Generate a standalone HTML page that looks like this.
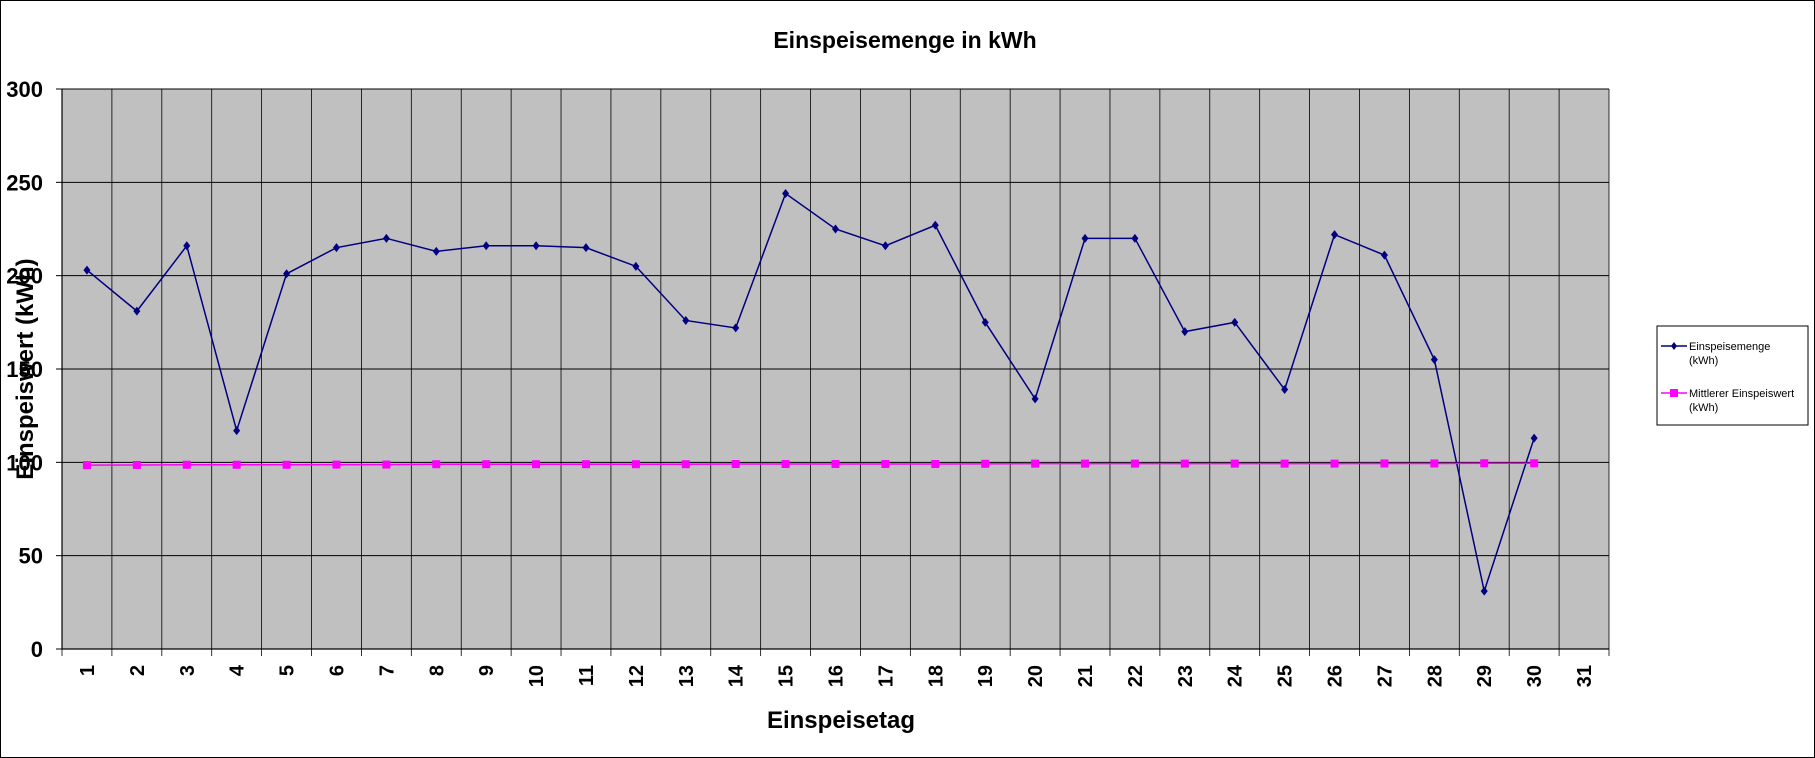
<!DOCTYPE html>
<html><head><meta charset="utf-8"><style>
body{margin:0;background:#fff;}
svg{display:block;font-family:"Liberation Sans",Arial,sans-serif;}
</style></head><body>
<svg id="chart" width="1815" height="758" viewBox="0 0 1815 758">
<rect x="0.5" y="0.5" width="1814" height="757" fill="#fff" stroke="#000" stroke-width="1"/>
<text x="905" y="48" font-size="23" font-weight="bold" text-anchor="middle">Einspeisemenge in kWh</text>
<rect x="62" y="89" width="1547" height="560" fill="#c0c0c0"/>
<g id="grid"></g>
<g id="axes"></g>
<g id="series"></g>
<text transform="translate(33,369) rotate(-90)" font-size="24" font-weight="bold" text-anchor="middle">Einspeiswert  (kWh)</text>
<text x="841" y="728" font-size="24" font-weight="bold" text-anchor="middle">Einspeisetag</text>
<g>
<rect x="1657" y="326" width="151" height="99" fill="#fff" stroke="#000" stroke-width="1"/>
<line x1="1661" y1="346" x2="1687" y2="346" stroke="#000080" stroke-width="1.5"/>
<path d="M1674 342 L1677 346 L1674 350 L1671 346Z" fill="#000080"/>
<text x="1689" y="350" font-size="11">Einspeisemenge</text>
<text x="1689" y="364" font-size="11">(kWh)</text>
<line x1="1661" y1="393" x2="1687" y2="393" stroke="#ff00ff" stroke-width="1.5"/>
<rect x="1670" y="389" width="8" height="8" fill="#ff00ff"/>
<text x="1689" y="397" font-size="11">Mittlerer Einspeiswert</text>
<text x="1689" y="411" font-size="11">(kWh)</text>
</g>
</svg>
<script>
const categories=[1,2,3,4,5,6,7,8,9,10,11,12,13,14,15,16,17,18,19,20,21,22,23,24,25,26,27,28,29,30,31];
const einspeisemenge=[203,181,216,117,201,215,220,213,216,216,215,205,176,172,244,225,216,227,175,134,220,220,170,175,139,222,211,155,31,113];
const mittlerer=[98.5,98.6,98.7,98.7,98.7,98.8,98.8,99,99,99,99,99,99,99.1,99.1,99.1,99.1,99.1,99.2,99.3,99.3,99.3,99.3,99.3,99.3,99.3,99.4,99.4,99.5,99.5];
const yTicks=[0,50,100,150,200,250,300];
const NS='http://www.w3.org/2000/svg';
const L=62,R=1609,T=89,B=649,yMax=300;
const bw=(R-L)/categories.length;
function xs(i){return L+bw*(i+0.5);}
function ys(v){return B-(v/yMax)*(B-T);}
function mk(tag,attrs,parent){const e=document.createElementNS(NS,tag);for(const k in attrs)e.setAttribute(k,attrs[k]);parent.appendChild(e);return e;}
const grid=document.getElementById('grid'),axes=document.getElementById('axes'),series=document.getElementById('series');
yTicks.forEach(t=>{
  const ln=mk('line',{x1:L,x2:R,y1:ys(t),y2:ys(t),stroke:'#000','stroke-width':1},grid);
  
  
  const tk=mk('line',{x1:L-6,x2:L,y1:ys(t),y2:ys(t),stroke:'#000'},axes);
  
  
  const tx=mk('text',{x:43,y:ys(t)+8,'font-size':22,'font-weight':'bold','text-anchor':'end'},axes);
  tx.textContent=t;
  
  
});
for(let i=0;i<=categories.length;i++){
  const x=L+bw*i;
  const g=mk('line',{x1:x,x2:x,y1:T,y2:B+7,stroke:'#000','stroke-width':0.8},grid);
  
  
}
mk('line',{x1:L,x2:R,y1:B,y2:B,stroke:'#000','stroke-width':1.2},axes);
mk('line',{x1:L,x2:L,y1:T,y2:B,stroke:'#000','stroke-width':1.2},axes);
categories.forEach((c,i)=>{
  const x=xs(i)+7;
  const tx=mk('text',{transform:`translate(${x},665) rotate(-90)`,'font-size':20,'font-weight':'bold','text-anchor':'end'},axes);
  tx.textContent=c;
  
  
});
const p1=mk('polyline',{points:einspeisemenge.map((v,i)=>xs(i)+','+ys(v)).join(' '),fill:'none',stroke:'#000080','stroke-width':1.5},series);


const p2=mk('polyline',{points:mittlerer.map((v,i)=>xs(i)+','+ys(v)).join(' '),fill:'none',stroke:'#ff00ff','stroke-width':1.5},series);


mittlerer.forEach((v,i)=>{
  const r=mk('rect',{x:xs(i)-4,y:ys(v)-4,width:8,height:8,fill:'#ff00ff'},series);
  
  
});
einspeisemenge.forEach((v,i)=>{
  const x=xs(i),y=ys(v);
  const d=mk('path',{d:`M${x} ${y-4.5}L${x+3.5} ${y}L${x} ${y+4.5}L${x-3.5} ${y}Z`,fill:'#000080'},series);
  
  
});
</script>
</body></html>
